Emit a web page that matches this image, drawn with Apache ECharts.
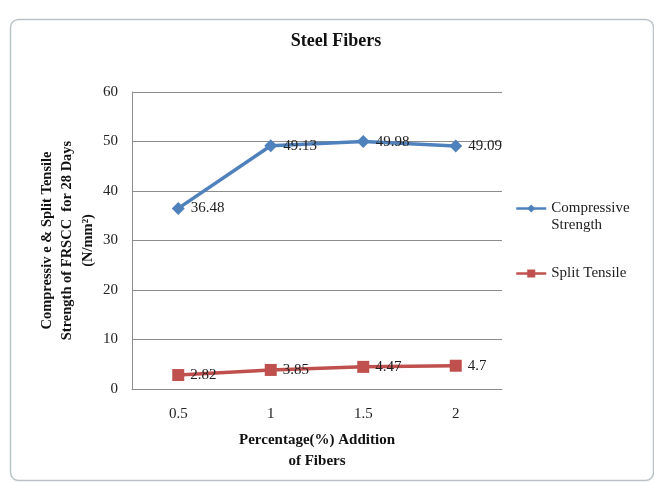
<!DOCTYPE html>
<html><head><meta charset="utf-8">
<script src="https://cdn.jsdelivr.net/npm/echarts@6/dist/echarts.min.js"></script>
<style>html,body{margin:0;padding:0;background:#fff}#c{width:654px;height:483px}</style>
</head><body><div id="c"></div>
<script>
const categories = ['0.5', '1', '1.5', '2'];
const compressive = [36.48, 49.13, 49.98, 49.09];
const splitTensile = [2.82, 3.85, 4.47, 4.7];
const yTicks = {min: 0, max: 60, interval: 10};

const serif = '"Liberation Serif", "DejaVu Serif", serif';
const chart = echarts.init(document.getElementById('c'), null, {renderer: 'canvas'});
chart.setOption({
  animation: false,
  backgroundColor: '#fff',
  graphic: [{
    type: 'rect', left: 8, top: 17,
    shape: {width: 643, height: 461, r: 8},
    style: {fill: 'none', stroke: '#b9c3c6', lineWidth: 1.5}
  }],
  title: {
    text: 'Steel Fibers', left: 331, top: 27, textAlign: 'center',
    textStyle: {fontFamily: serif, fontSize: 18, fontWeight: 'bold', color: '#111'}
  },
  legend: {
    orient: 'vertical', left: 510, top: 178, itemWidth: 30, itemHeight: 10, itemGap: 31,
    lineStyle: {width: 2.5},
    textStyle: {fontFamily: serif, fontSize: 15, color: '#222', lineHeight: 17},
    formatter: function (n) { return n.indexOf('\n') >= 0 ? '\n' + n : n; },
    data: [{name: 'Compressive\nStrength'}, {name: 'Split Tensile'}]
  },
  grid: {left: 132, right: 152, top: 92, bottom: 94},
  xAxis: {
    type: 'category', data: categories, boundaryGap: true,
    axisLine: {lineStyle: {color: '#8c8c8c', width: 1}},
    axisTick: {show: false},
    axisLabel: {fontFamily: serif, fontSize: 15, color: '#222', margin: 18},
    name: 'Percentage(%) Addition\nof Fibers', nameLocation: 'middle', nameGap: 41,
    nameTextStyle: {fontFamily: serif, fontSize: 15, fontWeight: 'bold', color: '#111', lineHeight: 21}
  },
  yAxis: {
    type: 'value', min: yTicks.min, max: yTicks.max, interval: yTicks.interval,
    axisLine: {show: true, lineStyle: {color: '#8c8c8c', width: 1}},
    axisTick: {show: false},
    splitLine: {lineStyle: {color: '#8c8c8c', width: 1}},
    axisLabel: {fontFamily: serif, fontSize: 15, color: '#222', margin: 14},
    name: 'Compressiv e & Split Tensile\nStrength of FRSCC  for 28 Days\n(N/mm²)',
    nameLocation: 'middle', nameRotate: 90, nameGap: 34, nameMoveOverlap: false,
    nameTextStyle: {fontFamily: serif, fontSize: 14.5, fontWeight: 'bold', color: '#111', lineHeight: 20.5}
  },
  series: [
    {
      name: 'Compressive\nStrength', type: 'line', data: compressive,
      symbol: 'diamond', symbolSize: 13,
      itemStyle: {color: '#4f81bd'}, lineStyle: {color: '#4f81bd', width: 3.5},
      label: {show: true, position: 'right', distance: 6, fontFamily: serif, fontSize: 15, color: '#222'}
    },
    {
      name: 'Split Tensile', type: 'line', data: splitTensile,
      symbol: 'rect', symbolSize: 12,
      itemStyle: {color: '#c0504d'}, lineStyle: {color: '#c0504d', width: 3.5},
      label: {show: true, position: 'right', distance: 6, fontFamily: serif, fontSize: 15, color: '#222'}
    }
  ]
});
</script></body></html>
